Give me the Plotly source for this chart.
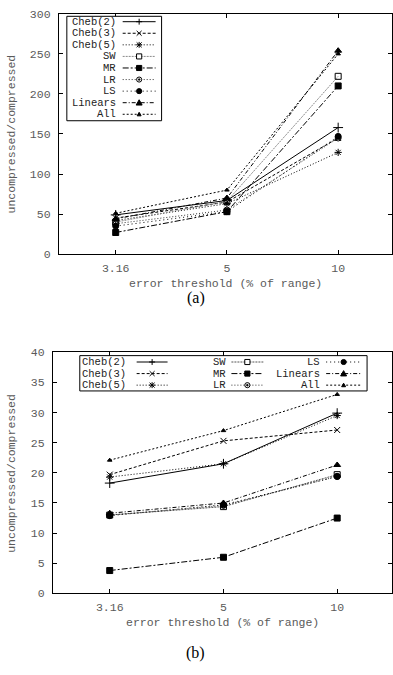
import plotly.graph_objects as go

W, H = 393, 675

categories = ["3.16", "5", "10"]
series_names = ["Cheb(2)", "Cheb(3)", "Cheb(5)", "SW", "MR", "LR", "LS", "Linears", "All"]

# panel (a) values
cheb2_a = [49, 67, 158]
cheb3_a = [45, 65, 145]
cheb5_a = [42, 63, 127]
sw_a = [40, 66, 222]
mr_a = [27, 53, 210]
lr_a = [38, 55, 145]
ls_a = [35, 53, 147]
linears_a = [44, 70, 254]
all_a = [51, 80, 250]

# panel (b) values
cheb2_b = [18.3, 21.5, 29.9]
cheb3_b = [19.7, 25.3, 27.1]
cheb5_b = [19.3, 21.5, 29.5]
sw_b = [13.0, 14.4, 19.7]
mr_b = [3.8, 6.0, 12.5]
lr_b = [13.0, 14.6, 19.4]
ls_b = [12.9, 14.7, 19.4]
linears_b = [13.3, 15.0, 21.3]
all_b = [22.1, 27.0, 33.0]

y_ticks_a = [0, 50, 100, 150, 200, 250, 300]
y_ticks_b = [0, 5, 10, 15, 20, 25, 30, 35, 40]

values_a = [cheb2_a, cheb3_a, cheb5_a, sw_a, mr_a, lr_a, ls_a, linears_a, all_a]
values_b = [cheb2_b, cheb3_b, cheb5_b, sw_b, mr_b, lr_b, ls_b, linears_b, all_b]

styles = [
    dict(dash="solid", color="#000000", symbol="cross-thin", size=7, mk="plus"),
    dict(dash="3px,2px", color="#000000", symbol="x-thin", size=6, mk="x"),
    dict(dash="1px,2px", color="#000000", symbol="asterisk", size=6, mk="star"),
    dict(dash="2px,1px", color="#8a8a8a", symbol="square-open", size=6, mk="sqo"),
    dict(dash="6px,2px,2px,2px", color="#000000", symbol="square", size=6, mk="sq"),
    dict(dash="1px,2px", color="#333333", symbol="circle-open-dot", size=6, mk="cio"),
    dict(dash="1px,3px", color="#000000", symbol="circle", size=6, mk="ci"),
    dict(dash="4px,2px,1px,2px", color="#000000", symbol="triangle-up", size=6, mk="tri"),
    dict(dash="2px,2px", color="#000000", symbol="triangle-up", size=4, mk="tris"),
]

MONO = "Liberation Mono"
GREY = "#5a5a5a"

fig = go.Figure()

for panel, vals in (("a", values_a), ("b", values_b)):
    xa = "x" if panel == "a" else "x2"
    ya = "y" if panel == "a" else "y2"
    for name, v, st in zip(series_names, vals, styles):
        lc = st["color"] if panel == "a" else ("#555555" if name == "SW" else st["color"])
        fig.add_trace(go.Scatter(
            x=categories, y=v, mode="lines+markers", name=name, showlegend=False,
            xaxis=xa, yaxis=ya,
            line=dict(color=lc, width=1, dash=st["dash"]),
            marker=dict(symbol=st["symbol"], size=st["size"], color="#000000",
                        line=dict(color="#000000", width=1)),
        ))


def px_x(p):
    return p / W


def px_y(p):
    return 1 - p / H


axis_common = dict(
    showline=True, linecolor="#000000", linewidth=1, mirror="ticks",
    ticks="inside", ticklen=4, tickcolor="#000000", showgrid=False, zeroline=False,
    tickfont=dict(family=MONO, size=11.5, color=GREY),
)

fig.update_layout(
    width=W, height=H, margin=dict(l=0, r=0, t=0, b=0),
    plot_bgcolor="white", paper_bgcolor="white", showlegend=False,
    xaxis=dict(domain=[px_x(59), 1], type="category", range=[-0.511, 2.484],
               anchor="y", ticklabelstandoff=3, **axis_common),
    yaxis=dict(domain=[px_y(253), px_y(8)], range=[0, 300], tickvals=y_ticks_a,
               anchor="x", ticklabelstandoff=5, **axis_common),
    xaxis2=dict(domain=[px_x(53), 1], type="category", range=[-0.5, 2.482],
                anchor="y2", ticklabelstandoff=3, **axis_common),
    yaxis2=dict(domain=[px_y(599), px_y(353)], range=[0, 40], tickvals=y_ticks_b,
                anchor="x2", ticklabelstandoff=5, **axis_common),
)

annotations = []
shapes = []


def text(xp, yp, s, size=11.5, color=GREY, family=MONO, xanchor="center", angle=0):
    annotations.append(dict(x=px_x(xp), y=px_y(yp), xref="paper", yref="paper", text=s,
                            showarrow=False, xanchor=xanchor, yanchor="middle", borderpad=0,
                            textangle=angle, font=dict(family=family, size=size, color=color)))


# axis titles and captions
text(226, 283, "error threshold (% of range)")
text(223, 629, "error threshold (% of range)")
text(12, 130, "uncompressed/compressed", angle=-90)
text(12, 476, "uncompressed/compressed", angle=-90)
text(196, 298, "(a)", size=16, color="#000000", family="Liberation Serif")
text(196, 660, "(b)", size=16, color="#000000", family="Liberation Serif")


def marker_shapes(cx, cy, kind):
    r = 2.6
    X = lambda v: px_x(v)
    Y = lambda v: px_y(v)
    blk = dict(color="#000000", width=1)
    if kind in ("plus", "star"):
        shapes.append(dict(type="path", xref="paper", yref="paper", line=blk,
                           path=f"M {X(cx-3)},{Y(cy)} L {X(cx+3)},{Y(cy)} M {X(cx)},{Y(cy-3)} L {X(cx)},{Y(cy+3)}"))
    if kind in ("x", "star"):
        shapes.append(dict(type="path", xref="paper", yref="paper", line=blk,
                           path=f"M {X(cx-2.5)},{Y(cy-2.5)} L {X(cx+2.5)},{Y(cy+2.5)} M {X(cx-2.5)},{Y(cy+2.5)} L {X(cx+2.5)},{Y(cy-2.5)}"))
    if kind in ("sqo", "sq"):
        shapes.append(dict(type="rect", xref="paper", yref="paper", line=blk,
                           fillcolor="#000000" if kind == "sq" else "white",
                           x0=X(cx-r), x1=X(cx+r), y0=Y(cy+r), y1=Y(cy-r)))
    if kind in ("cio", "ci"):
        shapes.append(dict(type="circle", xref="paper", yref="paper", line=blk,
                           fillcolor="#000000" if kind == "ci" else "white",
                           x0=X(cx-r), x1=X(cx+r), y0=Y(cy+r), y1=Y(cy-r)))
        if kind == "cio":
            shapes.append(dict(type="circle", xref="paper", yref="paper", line=blk,
                               fillcolor="#000000",
                               x0=X(cx-0.8), x1=X(cx+0.8), y0=Y(cy+0.8), y1=Y(cy-0.8)))
    if kind in ("tri", "tris"):
        t = 3 if kind == "tri" else 2
        shapes.append(dict(type="path", xref="paper", yref="paper", line=blk,
                           fillcolor="#000000",
                           path=f"M {X(cx-t)},{Y(cy+t*0.8)} L {X(cx+t)},{Y(cy+t*0.8)} L {X(cx)},{Y(cy-t)} Z"))


def legend_entry(text_right, sx0, sx1, yy, name, st, lcolor=None):
    text(text_right, yy, name, size=10.5, color="#222222", xanchor="right")
    shapes.append(dict(type="line", xref="paper", yref="paper",
                       x0=px_x(sx0), x1=px_x(sx1), y0=px_y(yy), y1=px_y(yy),
                       line=dict(color=lcolor or st["color"], width=1, dash=st["dash"])))
    marker_shapes((sx0 + sx1) / 2, yy, st["mk"])


# legend (a): single column box
shapes.append(dict(type="rect", xref="paper", yref="paper", line=dict(color="#000000", width=1),
                   fillcolor="white", x0=px_x(67), x1=px_x(162), y0=px_y(117), y1=px_y(10.5)))
for i, (name, st) in enumerate(zip(series_names, styles)):
    legend_entry(117, 123, 156, 16 + i * 11.8, name, st)

# legend (b): three columns
shapes.append(dict(type="rect", xref="paper", yref="paper", line=dict(color="#000000", width=1),
                   fillcolor="white", x0=px_x(80), x1=px_x(368), y0=px_y(392.5), y1=px_y(356.5)))
cols = [(127.5, 137, 168), (227.5, 232, 264), (322, 327, 362)]
for i, (name, st) in enumerate(zip(series_names, styles)):
    c = cols[i // 3]
    yy = 363 + (i % 3) * 11.8
    legend_entry(c[0], c[1], c[2], yy, name, st, lcolor="#555555" if name == "SW" else None)

fig.update_layout(annotations=annotations, shapes=shapes)
fig.write_html("out.html", config={"displayModeBar": False},
               post_script="document.body.style.margin='0';document.body.style.overflow='hidden';")
